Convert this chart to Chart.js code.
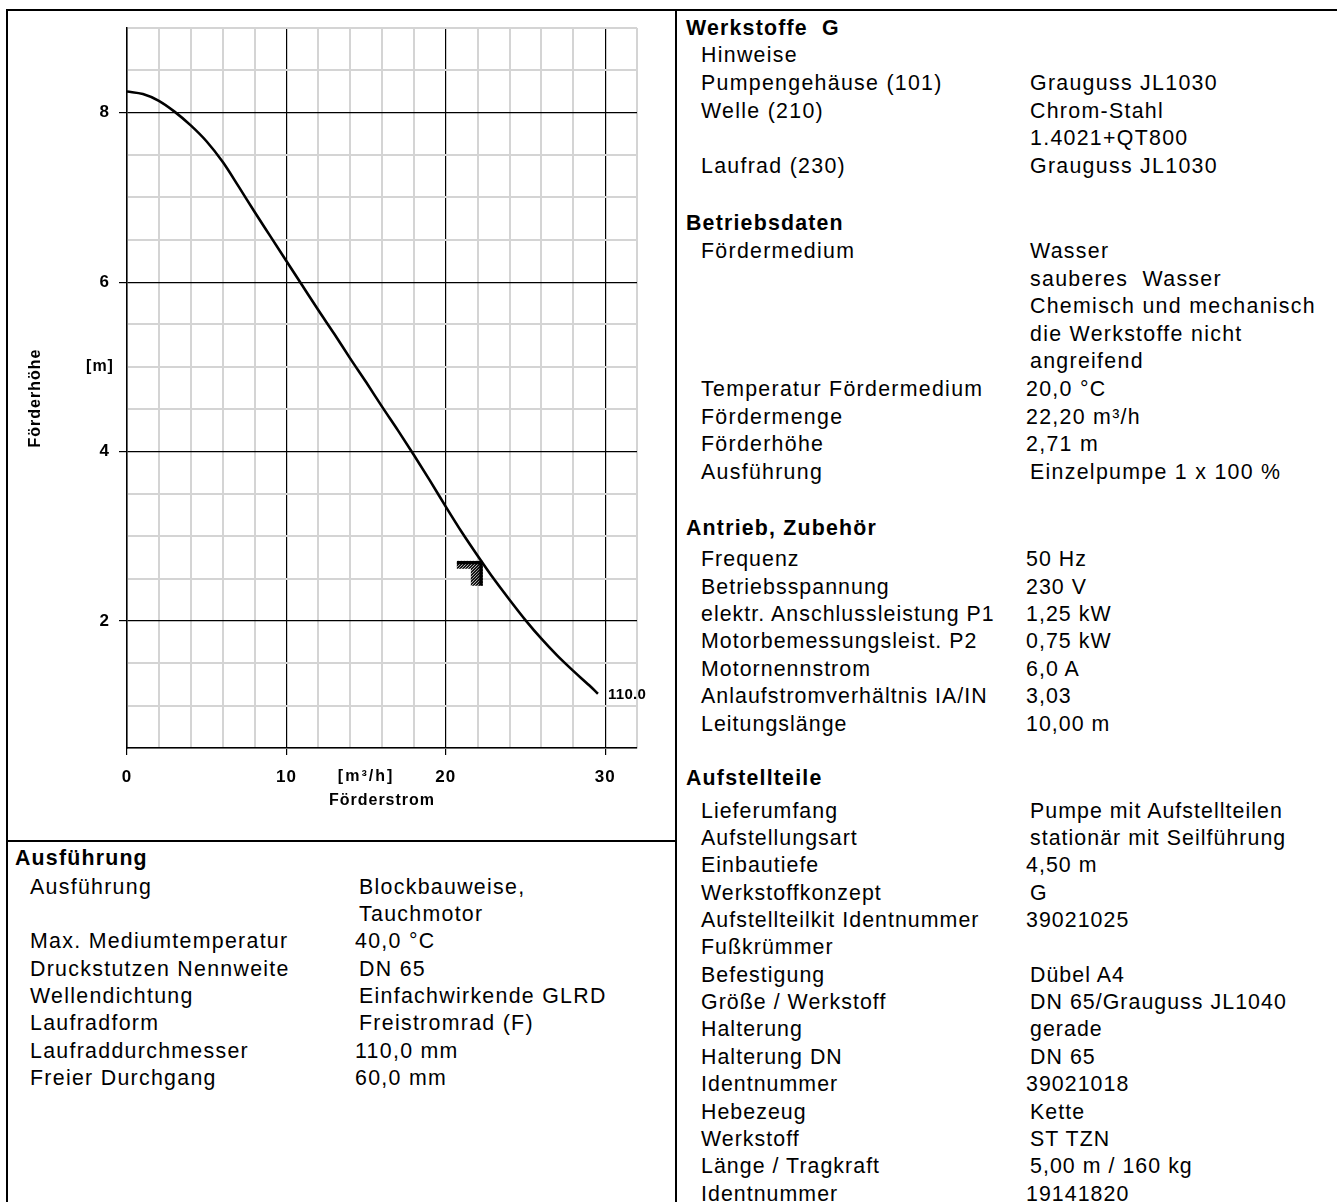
<!DOCTYPE html>
<html>
<head>
<meta charset="utf-8">
<script src="https://cdn.jsdelivr.net/npm/chart.js@4.4.1/dist/chart.umd.min.js"></script>
<style>
html, body { margin: 0; padding: 0; background: #fff; }
body { width: 1337px; height: 1202px; overflow: hidden; position: relative; font-family: 'Liberation Sans', Arial, sans-serif; color: #000; }
#box { position: absolute; left: 0; top: 0; width: 676px; height: 840px; }
.ln { position: absolute; background: #000; }
.t { position: absolute; white-space: pre; font-size: 21.33px; line-height: 24px; letter-spacing: 1.3px; }
.h { font-weight: bold; letter-spacing: 1.2px; }
.eng { letter-spacing: 1.05px; }
</style>
</head>
<body>
<div id="box"><canvas id="grafico"></canvas></div>

<div class="ln" style="left:6px;top:9px;width:1331px;height:2px"></div>
<div class="ln" style="left:6px;top:9px;width:2px;height:1193px"></div>
<div class="ln" style="left:675px;top:9px;width:2px;height:1193px"></div>
<div class="ln" style="left:6px;top:840px;width:670px;height:2px"></div>
<div id="texte"></div>

<script>
// Kennlinie (Förderstrom m³/h -> Förderhöhe m)
const foerderstrom = [0, 1, 2, 3, 4, 5, 6, 7, 8, 9, 10, 11, 12, 13, 14, 15, 16, 17, 18, 19, 20, 21, 22, 23, 24, 25, 26, 27, 28, 29, 29.55];
const foerderhoehe = [8.25, 8.22, 8.14, 8.01, 7.85, 7.66, 7.42, 7.13, 6.83, 6.54, 6.25, 5.96, 5.67, 5.39, 5.10, 4.82, 4.53, 4.25, 3.96, 3.66, 3.35, 3.05, 2.77, 2.50, 2.25, 2.01, 1.79, 1.59, 1.41, 1.24, 1.14];
const betriebspunkt = [22.2, 2.71];
const kurvenName = '110.0';
const xLabels = [0, 10, 20, 30];
const yLabels = [2, 4, 6, 8];

const schrift = "'Liberation Sans', Arial, sans-serif";

const zusatz = {
    id: 'zusatz',
    beforeDraw(chart) {
        chart.ctx.letterSpacing = '1px';
    },
    afterDatasetsDraw(chart) {
        const ctx = chart.ctx;
        const x = chart.scales.x, y = chart.scales.y;
        // Betriebspunkt (schraffierter Winkel)
        const px = x.getPixelForValue(betriebspunkt[0]);
        const py = y.getPixelForValue(betriebspunkt[1]);
        ctx.save();
        ctx.beginPath();
        ctx.rect(px - 24, py, 26, 8);
        ctx.rect(px - 10, py, 12, 25);
        ctx.clip();
        ctx.strokeStyle = '#000';
        ctx.lineWidth = 1.5;
        for (let k = -40; k < 40; k += 3) {
            ctx.beginPath();
            ctx.moveTo(px - 30 + k, py + 30);
            ctx.lineTo(px + k, py);
            ctx.stroke();
        }
        ctx.fillStyle = '#000';
        ctx.fillRect(px - 24, py, 26, 3.5);
        ctx.fillRect(px - 1.5, py, 3.5, 25);
        ctx.restore();

        // Kurvenbeschriftung
        const n = foerderstrom.length - 1;
        ctx.save();
        ctx.font = 'bold 15px ' + schrift;
        ctx.letterSpacing = '0.3px';
        ctx.fillStyle = '#000';
        ctx.textAlign = 'left';
        ctx.textBaseline = 'middle';
        ctx.fillText(kurvenName, x.getPixelForValue(foerderstrom[n]) + 10, y.getPixelForValue(foerderhoehe[n]) + 1);
        ctx.restore();
    },
    afterDraw(chart) {
        const ctx = chart.ctx;
        const x = chart.scales.x, y = chart.scales.y;
        const area = chart.chartArea;
        ctx.save();
        ctx.fillStyle = '#000';
        ctx.font = 'bold 16px ' + schrift;
        ctx.textAlign = 'center';
        ctx.textBaseline = 'middle';
        ctx.letterSpacing = '2px';
        ctx.fillText('[m³/h]', x.getPixelForValue(15), area.bottom + 29);
        ctx.letterSpacing = '1px';
        ctx.fillText('[m]', 100, y.getPixelForValue(5));
        ctx.translate(36, (area.top + area.bottom) / 2 + 10);
        ctx.rotate(-Math.PI / 2);
        ctx.fillText('Förderhöhe', 0, 0);
        ctx.restore();
    }
};

const grafico = document.getElementById('grafico');

const config = {
    type: 'line',
    data: {
        datasets: [{
            data: foerderstrom.map((q, i) => ({ x: q, y: foerderhoehe[i] })),
            borderColor: '#000',
            borderWidth: 2.6,
            pointRadius: 0,
            cubicInterpolationMode: 'monotone',
            fill: false
        }]
    },
    options: {
        animation: false,
        responsive: true,
        maintainAspectRatio: false,
        layout: { padding: { top: 28, right: 39, left: 0, bottom: 0 } },
        plugins: {
            legend: { display: false },
            tooltip: { enabled: false }
        },
        scales: {
            x: {
                type: 'linear',
                min: 0,
                max: 32,
                afterFit: (s) => { s.height = 92; },
                border: { display: true, color: '#000', width: 1.5 },
                grid: {
                    color: (c) => (c.tick && c.tick.value % 10 === 0) ? '#000' : '#d4d4d4',
                    lineWidth: (c) => (c.tick && c.tick.value % 10 === 0) ? 1.2 : 2,
                    tickColor: (c) => (c.tick && c.tick.value % 10 === 0) ? '#000' : 'rgba(0,0,0,0)',
                    tickLength: 7
                },
                ticks: {
                    stepSize: 2,
                    autoSkip: false,
                    maxRotation: 0,
                    padding: 12,
                    color: '#000',
                    font: { size: 17, family: schrift, weight: 'bold' },
                    callback: (v) => xLabels.includes(v) ? String(v) : ''
                },
                title: {
                    display: true,
                    text: 'Förderstrom',
                    color: '#000',
                    font: { size: 16, family: schrift, weight: 'bold' },
                    padding: { top: 0, bottom: 30 }
                }
            },
            y: {
                type: 'linear',
                min: 0.5,
                max: 9,
                afterFit: (s) => { s.width = 127; },
                border: { display: true, color: '#000', width: 1.5 },
                grid: {
                    color: (c) => (c.tick && c.tick.value % 2 === 0) ? '#000' : '#d4d4d4',
                    lineWidth: (c) => (c.tick && c.tick.value % 2 === 0) ? 1.2 : 2,
                    tickColor: (c) => (c.tick && c.tick.value % 2 === 0) ? '#000' : 'rgba(0,0,0,0)',
                    tickLength: 8
                },
                ticks: {
                    stepSize: 0.5,
                    autoSkip: false,
                    padding: 9,
                    color: '#000',
                    font: { size: 17, family: schrift, weight: 'bold' },
                    callback: (v) => yLabels.includes(v) ? String(v) : ''
                }
            }
        }
    },
    plugins: [zusatz]
};

const grafico_1 = new Chart(grafico, config);

// Datenblatt-Texte
const texte = document.getElementById('texte');
function zeile(x, y, text, art) {
    const d = document.createElement('div');
    d.className = 't' + (art ? ' ' + art : '');
    d.style.left = x + 'px';
    d.style.top = (y - 12) + 'px';
    d.textContent = text;
    texte.appendChild(d);
}
function block(lx, y0, dy, rows, art) {
    rows.forEach((r, i) => {
        const y = y0 + i * dy;
        if (r[0]) zeile(lx, y, r[0], art);
        if (r[1]) zeile(r[2], y, r[1], art);
    });
}

zeile(686, 28.3, 'Werkstoffe  G', 'h');
block(701, 55.3, 27.7, [
    ['Hinweise', '', 0],
    ['Pumpengehäuse (101)', 'Grauguss JL1030', 1030],
    ['Welle (210)', 'Chrom-Stahl', 1030],
    ['', '1.4021+QT800', 1030],
    ['Laufrad (230)', 'Grauguss JL1030', 1030]
]);
zeile(686, 223, 'Betriebsdaten', 'h');
block(701, 251, 27.6, [
    ['Fördermedium', 'Wasser', 1030],
    ['', 'sauberes  Wasser', 1030],
    ['', 'Chemisch und mechanisch', 1030],
    ['', 'die Werkstoffe nicht', 1030],
    ['', 'angreifend', 1030],
    ['Temperatur Fördermedium', '20,0 °C', 1026],
    ['Fördermenge', '22,20 m³/h', 1026],
    ['Förderhöhe', '2,71 m', 1026],
    ['Ausführung', 'Einzelpumpe 1 x 100 %', 1030]
]);
zeile(686, 528.3, 'Antrieb, Zubehör', 'h');
block(701, 559.2, 27.4, [
    ['Frequenz', '50 Hz', 1026],
    ['Betriebsspannung', '230 V', 1026],
    ['elektr. Anschlussleistung P1', '1,25 kW', 1026],
    ['Motorbemessungsleist. P2', '0,75 kW', 1026],
    ['Motornennstrom', '6,0 A', 1026],
    ['Anlaufstromverhältnis IA/IN', '3,03', 1026],
    ['Leitungslänge', '10,00 m', 1026]
], 'eng');
zeile(686, 778.3, 'Aufstellteile', 'h');
block(701, 810.6, 27.36, [
    ['Lieferumfang', 'Pumpe mit Aufstellteilen', 1030],
    ['Aufstellungsart', 'stationär mit Seilführung', 1030],
    ['Einbautiefe', '4,50 m', 1026],
    ['Werkstoffkonzept', 'G', 1030],
    ['Aufstellteilkit Identnummer', '39021025', 1026],
    ['Fußkrümmer', '', 0],
    ['Befestigung', 'Dübel A4', 1030],
    ['Größe / Werkstoff', 'DN 65/Grauguss JL1040', 1030],
    ['Halterung', 'gerade', 1030],
    ['Halterung DN', 'DN 65', 1030],
    ['Identnummer', '39021018', 1026],
    ['Hebezeug', 'Kette', 1030],
    ['Werkstoff', 'ST TZN', 1030],
    ['Länge / Tragkraft', '5,00 m / 160 kg', 1030],
    ['Identnummer', '19141820', 1026]
], 'eng');

zeile(15, 858.3, 'Ausführung', 'h');
block(30, 886.7, 27.33, [
    ['Ausführung', 'Blockbauweise,', 359],
    ['', 'Tauchmotor', 359],
    ['Max. Mediumtemperatur', '40,0 °C', 355],
    ['Druckstutzen Nennweite', 'DN 65', 359],
    ['Wellendichtung', 'Einfachwirkende GLRD', 359],
    ['Laufradform', 'Freistromrad (F)', 359],
    ['Laufraddurchmesser', '110,0 mm', 355],
    ['Freier Durchgang', '60,0 mm', 355]
]);
</script>
</body>
</html>
